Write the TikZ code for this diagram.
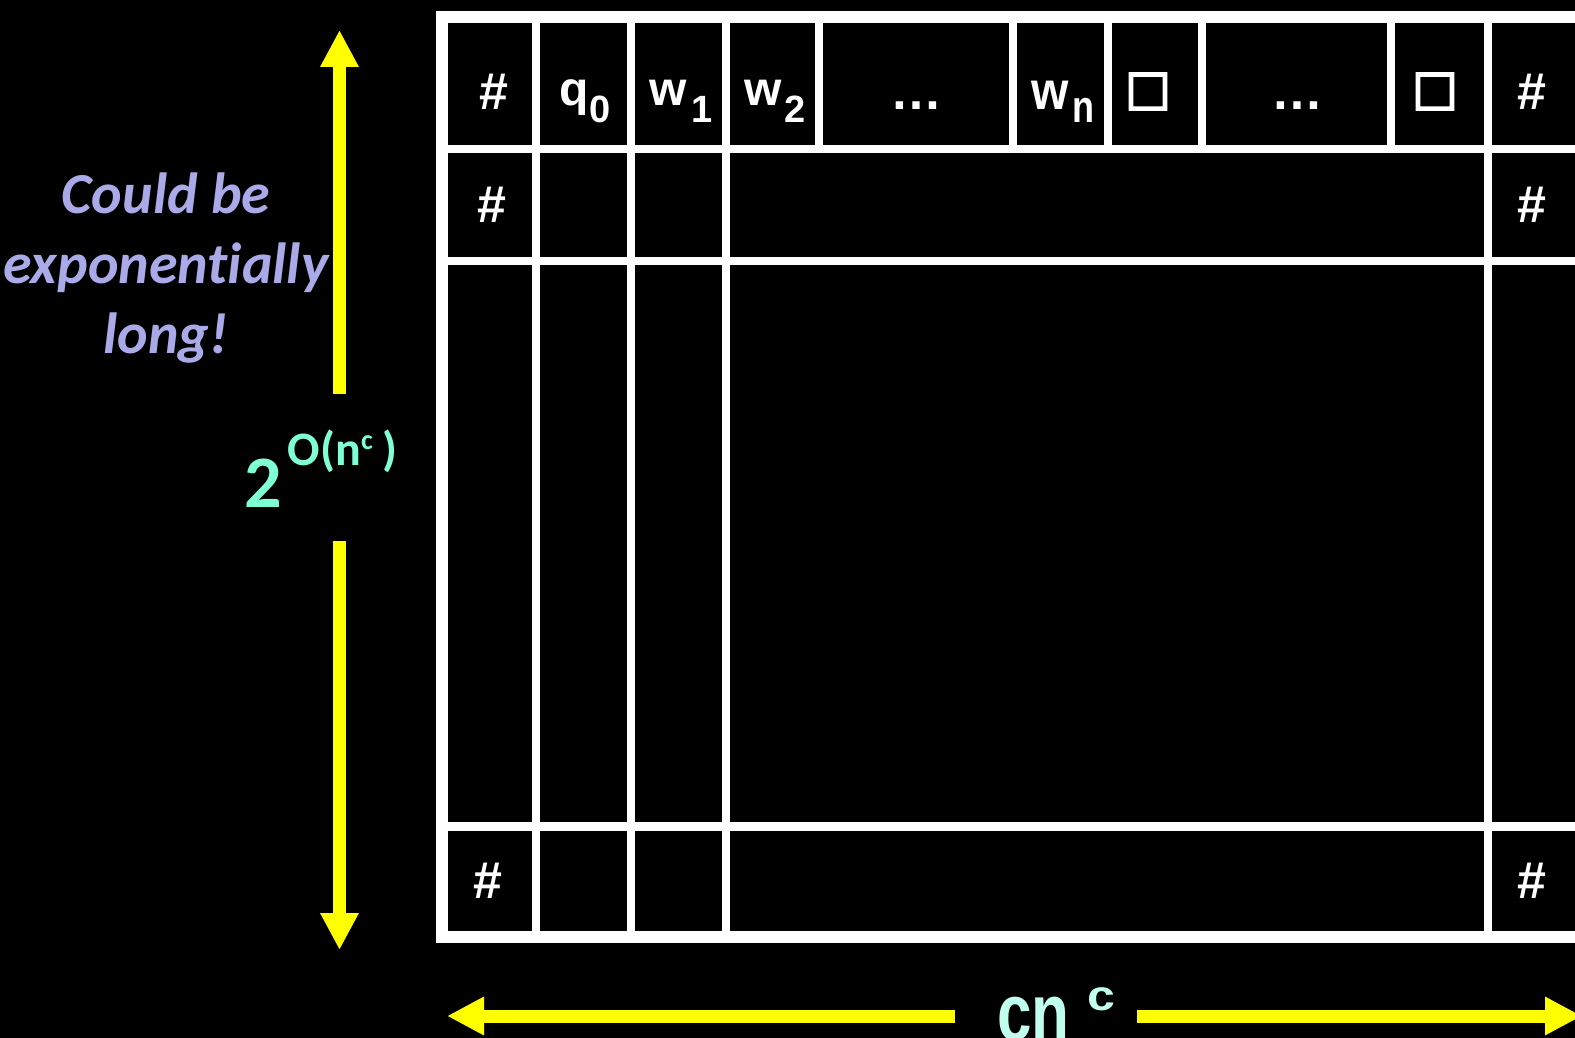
\documentclass[tikz,border=0pt]{standalone}
\usepackage{fontspec}
\usetikzlibrary{arrows.meta}
\newfontfamily\lsans{Liberation Sans}
\newfontfamily\carl{Carlito}[Ligatures={NoCommon}]
\newfontfamily\sqfont{DejaVu Sans}[FakeBold=4]
\definecolor{lav}{RGB}{170,170,232}
\definecolor{aqua}{RGB}{127,255,212}
\definecolor{cyanl}{RGB}{192,255,238}
\definecolor{ylw}{RGB}{255,255,0}
\newcommand\myfs[1]{\fontsize{#1}{#1}\selectfont}
\newcommand\mkcell[5]{\node[cellbox, minimum width={(#4-#2)*0.5pt}, minimum height={(#5-#3)*0.5pt}] (#1) at ({(#2+#4)/2},{(#3+#5)/2}) {};}
\tikzset{
  cellbox/.style={fill=black, draw=none, inner sep=0pt, outer sep=0pt, rectangle},
  gtxt/.style={anchor=base, inner sep=0pt, text=white, font=\lsans\bfseries\myfs{26}},
  ltxt/.style={anchor=base, inner sep=0pt, text=white, font=\lsans\bfseries\myfs{24}},
  sqtxt/.style={anchor=base, inner sep=0pt, text=white, font=\sqfont\myfs{24}},
  yarrow/.style={draw=ylw, line width=6.5pt, -{Triangle[width=18pt, length=18.5pt]}}
}
\begin{document}
\begin{tikzpicture}[x=0.5pt,y=-0.5pt]
\useasboundingbox (0,0) rectangle (1575,1038);
\clip (0,0) rectangle (1575,1038);
\fill[black] (0,0) rectangle (1575,1038);
% grid frame
\fill[white] (436,11) rectangle (1620,943);
% row 1
\mkcell{a1}{448}{23}{532}{145}
\mkcell{a2}{540}{23}{627}{145}
\mkcell{a3}{635}{23}{722}{145}
\mkcell{a4}{730}{23}{815}{145}
\mkcell{a5}{823}{23}{1009}{145}
\mkcell{a6}{1017}{23}{1104}{145}
\mkcell{a7}{1112}{23}{1198}{145}
\mkcell{a8}{1206}{23}{1387}{145}
\mkcell{a9}{1395}{23}{1484}{145}
\mkcell{a10}{1492}{23}{1610}{145}
% row 2
\mkcell{b1}{448}{153}{532}{257}
\mkcell{b2}{540}{153}{627}{257}
\mkcell{b3}{635}{153}{722}{257}
\mkcell{b4}{730}{153}{1484}{257}
\mkcell{b10}{1492}{153}{1610}{257}
% row 3
\mkcell{c1}{448}{265}{532}{822}
\mkcell{c2}{540}{265}{627}{822}
\mkcell{c3}{635}{265}{722}{822}
\mkcell{c4}{730}{265}{1484}{822}
\mkcell{c10}{1492}{265}{1610}{822}
% row 4
\mkcell{d1}{448}{831}{532}{931}
\mkcell{d2}{540}{831}{627}{931}
\mkcell{d3}{635}{831}{722}{931}
\mkcell{d4}{730}{831}{1484}{931}
\mkcell{d10}{1492}{831}{1610}{931}
% cell texts
\node[gtxt] (ta1) at (494,110) {\#};
\node[ltxt] (ta2) at (585,106) {q\raisebox{-8.5pt}{\myfs{19}0}};
\node[ltxt] (ta3) at (681,106) {w\kern2pt\raisebox{-8.5pt}{\myfs{19}1}};
\node[ltxt] (ta4) at (775,106) {w\kern1pt\raisebox{-8.5pt}{\myfs{19}2}};
\node[gtxt] (ta5) at (916,110) {…};
\node[ltxt] (ta6) at (1063,110) {\scalebox{1}[1.12]{w}\kern2pt\raisebox{-6.5pt}{\myfs{18}\scalebox{1}[1.25]{n}}};
\node[sqtxt] (ta7) at (1148,104) {□};
\node[gtxt] (ta8) at (1297,110) {…};
\node[sqtxt] (ta9) at (1435,104) {□};
\node[gtxt] (ta10) at (1532,110) {\#};
\node[gtxt] (tb1) at (492,222) {\#};
\node[gtxt] (tb10) at (1532,222) {\#};
\node[gtxt] (td1) at (488,898) {\#};
\node[gtxt] (td10) at (1532,898) {\#};
% left note
\node[anchor=north, inner sep=0pt, align=center, text=lav, font=\carl\bfseries\itshape\fontsize{29}{35}\selectfont] (note) at (166,172) {Could be\\exponentially\\long!};
% height label
\node[anchor=base west, inner sep=0pt, text=aqua, font=\carl\bfseries] (expo) at (244,507)
  {\myfs{37}2\kern3pt\raisebox{21pt}{\myfs{24}O(n\raisebox{8pt}{\myfs{14}c}\kern5pt)}};
% width label
\node[anchor=base west, inner sep=0pt, text=cyanl, font=\lsans\bfseries\myfs{31}] (cnc) at (997,1040)
  {\scalebox{1}[1.3]{cn}\kern9pt\raisebox{15pt}{\myfs{25}\scalebox{1}[0.85]{c}}};
% arrows
\coordinate (vtopS) at (339.5,394);
\coordinate (vtopT) at (339.5,30);
\coordinate (vbotS) at (339.5,541);
\coordinate (vbotT) at (339.5,950);
\coordinate (hlS) at (955,1016);
\coordinate (hlT) at (447,1016);
\coordinate (hrS) at (1137,1016);
\coordinate (hrT) at (1582,1016);
\draw[yarrow] (vtopS) -- (vtopT);
\draw[yarrow] (vbotS) -- (vbotT);
\draw[yarrow] (hlS) -- (hlT);
\draw[yarrow] (hrS) -- (hrT);
\end{tikzpicture}
\end{document}
